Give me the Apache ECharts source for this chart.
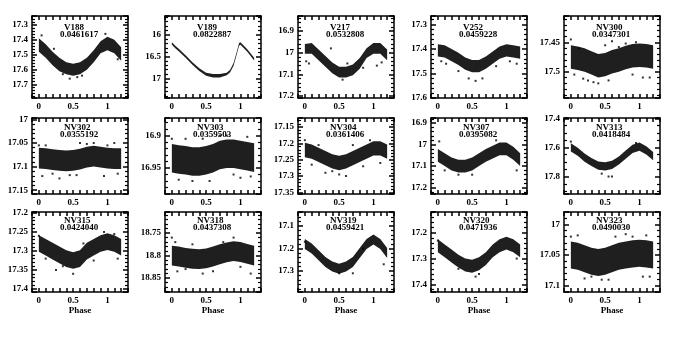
<!DOCTYPE html>
<html>
<head>
<meta charset="utf-8">
<script src="https://cdn.jsdelivr.net/npm/echarts@6/dist/echarts.min.js"></script>
<style>
html, body { margin: 0; padding: 0; background: #fff; }
#main { width: 696px; height: 337px; }
</style>
</head>
<body>
<div id="main"></div>
<script>
// light curves, magnitude vs phase (bright / faint edge of the point cloud)
var phase = [0, 0.1, 0.2, 0.3, 0.4, 0.5, 0.6, 0.7, 0.8, 0.9, 1.0, 1.1, 1.2];
var phaseV189 = [0, 0.05, 0.1, 0.2, 0.3, 0.4, 0.5, 0.6, 0.7, 0.8, 0.85, 0.9, 0.95, 0.98, 1.0, 1.05, 1.1, 1.2];

var starNames = ['V188', 'V189', 'V217', 'V252', 'NV300', 'NV302', 'NV303', 'NV304', 'NV307', 'NV313', 'NV315', 'NV318', 'NV319', 'NV320', 'NV323'];
var periods = ['0.0461617', '0.0822887', '0.0532808', '0.0459228', '0.0347301', '0.0355192', '0.0359503', '0.0361406', '0.0395082', '0.0418484', '0.0424040', '0.0437308', '0.0459421', '0.0471936', '0.0490030'];

var magMin = [17.24, 15.57, 16.83, 17.265, 17.405, 16.997, 16.873, 17.122, 16.876, 17.398, 17.197, 18.703, 17.038, 17.119, 16.98];
var magMax = [17.79, 17.45, 17.21, 17.6, 17.545, 17.158, 16.99, 17.355, 17.23, 17.92, 17.408, 18.881, 17.393, 17.43, 17.11];
var magStep = [0.1, 0.5, 0.1, 0.1, 0.05, 0.05, 0.05, 0.05, 0.1, 0.2, 0.05, 0.05, 0.1, 0.1, 0.05];
var magMinorSplit = [5, 5, 5, 5, 5, 5, 5, 5, 5, 4, 5, 5, 5, 5, 5];
var phaseTicks = [0, 0.5, 1];

var v188Bright = [17.39, 17.43, 17.48, 17.52, 17.55, 17.56, 17.55, 17.52, 17.47, 17.41, 17.38, 17.40, 17.45];
var v188Faint = [17.48, 17.52, 17.57, 17.61, 17.63, 17.64, 17.63, 17.60, 17.55, 17.49, 17.47, 17.49, 17.54];
var v188Out = [[0.04, 17.37], [0.35, 17.63], [0.45, 17.66], [0.56, 17.65], [0.63, 17.64], [0.97, 17.36], [1.15, 17.53], [0.22, 17.46]];

var v189Bright = [16.17, 16.25, 16.32, 16.47, 16.63, 16.77, 16.87, 16.9, 16.9, 16.87, 16.8, 16.65, 16.37, 16.19, 16.17, 16.25, 16.33, 16.53];
var v189Faint = [16.23, 16.31, 16.38, 16.53, 16.69, 16.83, 16.94, 16.98, 16.98, 16.93, 16.86, 16.71, 16.43, 16.25, 16.23, 16.31, 16.39, 16.59];
var v189Out = [];

var v217Bright = [16.96, 16.955, 16.985, 17.015, 17.045, 17.065, 17.065, 17.055, 17.025, 16.98, 16.955, 16.955, 16.985];
var v217Faint = [17.005, 17.005, 17.035, 17.065, 17.095, 17.115, 17.115, 17.105, 17.075, 17.025, 17.005, 17.005, 17.035];
var v217Out = [[0.02, 17.04], [0.06, 17.05], [0.38, 16.98], [0.62, 17.05], [0.85, 17.07], [1.05, 17.06], [1.12, 17.045], [0.55, 17.125]];

var v252Bright = [17.38, 17.385, 17.4, 17.415, 17.435, 17.445, 17.445, 17.43, 17.41, 17.39, 17.38, 17.385, 17.39];
var v252Faint = [17.43, 17.435, 17.45, 17.465, 17.485, 17.495, 17.495, 17.48, 17.46, 17.44, 17.43, 17.435, 17.44];
var v252Out = [[0.05, 17.45], [0.12, 17.46], [0.3, 17.49], [0.45, 17.52], [0.55, 17.53], [0.65, 17.52], [0.85, 17.47], [1.05, 17.45], [1.15, 17.46]];

var nv300Bright = [17.455, 17.457, 17.46, 17.465, 17.47, 17.468, 17.463, 17.46, 17.456, 17.453, 17.452, 17.453, 17.455];
var nv300Faint = [17.495, 17.497, 17.5, 17.505, 17.51, 17.508, 17.503, 17.5, 17.496, 17.493, 17.492, 17.493, 17.495];
var nv300Out = [[0.0, 17.445], [0.12, 17.46], [0.4, 17.52], [0.5, 17.455], [0.95, 17.45], [1.05, 17.51], [0.25, 17.515],
	[0.05, 17.505], [0.18, 17.512], [0.33, 17.518], [0.55, 17.515], [0.7, 17.458], [0.8, 17.452], [0.9, 17.505], [1.15, 17.51], [0.6, 17.448]];

var nv302Bright = [17.06, 17.061, 17.063, 17.065, 17.066, 17.065, 17.062, 17.058, 17.056, 17.058, 17.06, 17.061, 17.061];
var nv302Faint = [17.104, 17.105, 17.107, 17.109, 17.11, 17.109, 17.106, 17.102, 17.1, 17.102, 17.104, 17.105, 17.105];
var nv302Out = [[0.0, 17.055], [0.05, 17.12], [0.3, 17.125], [0.6, 17.05], [0.95, 17.12], [1.15, 17.115],
	[0.1, 17.055], [0.2, 17.115], [0.45, 17.118], [0.7, 17.052], [0.8, 17.05], [1.0, 17.055], [1.1, 17.05], [0.55, 17.118]];

var nv303Bright = [16.913, 16.915, 16.916, 16.918, 16.918, 16.916, 16.913, 16.908, 16.906, 16.906, 16.908, 16.91, 16.912];
var nv303Faint = [16.957, 16.959, 16.96, 16.962, 16.962, 16.96, 16.957, 16.952, 16.95, 16.95, 16.952, 16.954, 16.956];
var nv303Out = [[0.0, 16.905], [0.3, 16.97], [0.7, 16.9], [1.0, 16.965], [0.45, 16.905],
	[0.1, 16.968], [0.2, 16.905], [0.55, 16.97], [0.8, 16.9], [0.9, 16.96], [1.1, 16.902], [1.15, 16.963]];

var nv304Bright = [17.198, 17.203, 17.213, 17.223, 17.233, 17.238, 17.233, 17.223, 17.213, 17.203, 17.193, 17.193, 17.203];
var nv304Faint = [17.242, 17.247, 17.257, 17.267, 17.277, 17.282, 17.277, 17.267, 17.257, 17.247, 17.237, 17.237, 17.247];
var nv304Out = [[0.0, 17.19], [0.3, 17.29], [0.6, 17.3], [0.95, 17.19], [0.4, 17.285],
	[0.1, 17.265], [0.2, 17.205], [0.5, 17.295], [0.7, 17.205], [1.1, 17.26], [0.85, 17.27]];

var nv307Bright = [17.02, 17.04, 17.06, 17.07, 17.07, 17.06, 17.04, 17.02, 17.005, 16.99, 16.99, 17.01, 17.04];
var nv307Faint = [17.08, 17.1, 17.12, 17.13, 17.13, 17.12, 17.1, 17.08, 17.065, 17.05, 17.05, 17.07, 17.1];
var nv307Out = [[0.02, 16.985], [0.1, 17.12], [0.85, 16.98], [1.15, 17.12], [0.5, 17.14], [0.3, 17.14]];

var nv313Bright = [17.572, 17.602, 17.642, 17.672, 17.697, 17.702, 17.692, 17.662, 17.622, 17.582, 17.567, 17.592, 17.632];
var nv313Faint = [17.628, 17.658, 17.698, 17.728, 17.753, 17.758, 17.748, 17.718, 17.678, 17.638, 17.623, 17.648, 17.688];
var nv313Out = [[0.0, 17.56], [0.55, 17.8], [0.6, 17.8], [0.45, 17.78], [0.95, 17.57]];

var nv315Bright = [17.258, 17.268, 17.278, 17.288, 17.298, 17.303, 17.298, 17.278, 17.268, 17.258, 17.253, 17.258, 17.268];
var nv315Faint = [17.302, 17.312, 17.322, 17.332, 17.342, 17.347, 17.342, 17.322, 17.312, 17.302, 17.297, 17.302, 17.312];
var nv315Out = [[0.0, 17.26], [0.5, 17.36], [0.25, 17.35], [0.95, 17.25], [1.1, 17.255],
	[0.1, 17.32], [0.35, 17.34], [0.65, 17.28], [0.8, 17.325], [1.15, 17.32]];

var nv318Bright = [18.778, 18.78, 18.783, 18.785, 18.786, 18.784, 18.78, 18.775, 18.771, 18.768, 18.77, 18.774, 18.778];
var nv318Faint = [18.822, 18.824, 18.827, 18.829, 18.83, 18.828, 18.824, 18.819, 18.815, 18.812, 18.814, 18.818, 18.822];
var nv318Out = [[0.0, 18.76], [0.45, 18.84], [0.9, 18.76], [1.15, 18.84], [0.08, 18.835],
	[0.2, 18.83], [0.3, 18.775], [0.6, 18.835], [0.75, 18.77], [1.0, 18.825], [0.05, 18.77]];

var nv319Bright = [17.158, 17.178, 17.208, 17.238, 17.258, 17.268, 17.258, 17.238, 17.198, 17.158, 17.138, 17.158, 17.198];
var nv319Faint = [17.202, 17.222, 17.252, 17.282, 17.302, 17.312, 17.302, 17.282, 17.242, 17.202, 17.182, 17.202, 17.242];
var nv319Out = [[0.0, 17.17], [0.5, 17.31], [0.7, 17.31], [1.15, 17.27], [0.85, 17.2]];

var nv320Bright = [17.225, 17.245, 17.265, 17.285, 17.3, 17.305, 17.295, 17.275, 17.245, 17.225, 17.215, 17.225, 17.245];
var nv320Faint = [17.275, 17.295, 17.315, 17.335, 17.35, 17.355, 17.345, 17.325, 17.295, 17.275, 17.265, 17.275, 17.295];
var nv320Out = [[0.0, 17.23], [0.55, 17.37], [0.6, 17.36], [1.15, 17.3], [0.3, 17.34]];

var nv323Bright = [17.028, 17.03, 17.034, 17.038, 17.04, 17.038, 17.034, 17.03, 17.028, 17.026, 17.025, 17.026, 17.028];
var nv323Faint = [17.072, 17.074, 17.078, 17.082, 17.084, 17.082, 17.078, 17.074, 17.072, 17.07, 17.069, 17.07, 17.072];
var nv323Out = [[0.0, 17.02], [0.45, 17.09], [0.9, 17.02], [0.3, 17.085], [1.15, 17.085],
	[0.1, 17.018], [0.2, 17.088], [0.55, 17.09], [0.65, 17.02], [0.8, 17.016], [1.05, 17.085], [1.1, 17.018]];

var bands = [
	[phase, v188Bright, v188Faint, v188Out],
	[phaseV189, v189Bright, v189Faint, v189Out],
	[phase, v217Bright, v217Faint, v217Out],
	[phase, v252Bright, v252Faint, v252Out],
	[phase, nv300Bright, nv300Faint, nv300Out],
	[phase, nv302Bright, nv302Faint, nv302Out],
	[phase, nv303Bright, nv303Faint, nv303Out],
	[phase, nv304Bright, nv304Faint, nv304Out],
	[phase, nv307Bright, nv307Faint, nv307Out],
	[phase, nv313Bright, nv313Faint, nv313Out],
	[phase, nv315Bright, nv315Faint, nv315Out],
	[phase, nv318Bright, nv318Faint, nv318Out],
	[phase, nv319Bright, nv319Faint, nv319Out],
	[phase, nv320Bright, nv320Faint, nv320Out],
	[phase, nv323Bright, nv323Faint, nv323Out]
];

var chart = echarts.init(document.getElementById('main'));

var W = 96;
var colLeft = [32, 165, 298, 431, 564];
var rowTop = [16, 118, 212];
var rowH = [82, 76, 80];
var nameOff = [12, 10, 9];
var perOff = [19, 17, 16];
var font = 'Liberation Serif';
var lblStyle = { color: '#000', fontFamily: font, fontWeight: 'bold', fontSize: 9 };

function fmt(v) {
	return String(parseFloat(v.toFixed(3)));
}
function onStep(v, s) {
	var r = v / s;
	return Math.abs(r - Math.round(r)) < 1e-6;
}

// ticks every 0.1 on phase axes; min -0.1 is a multiple of the interval
function xAxisFor(i, pos, showLabel, name) {
	return {
		gridIndex: i, type: 'value', position: pos,
		min: -0.1, max: 1.3, interval: 0.1,
		axisLine: { show: true, onZero: false, lineStyle: { color: '#000', width: 1.5 } },
		axisTick: { show: true, inside: true, length: 4, lineStyle: { color: '#000', width: 1.5 } },
		minorTick: { show: false },
		axisLabel: {
			show: showLabel, margin: 4, color: '#000', fontFamily: font, fontWeight: 'bold', fontSize: 9,
			showMinLabel: true, showMaxLabel: true,
			formatter: function (v) { return phaseTicks.indexOf(parseFloat(v.toFixed(3))) >= 0 ? fmt(v) : ''; }
		},
		splitLine: { show: false },
		name: name || '', nameLocation: 'middle', nameGap: 14,
		nameTextStyle: lblStyle,
		z: 5
	};
}

function yAxisFor(i, pos, showLabel) {
	var big = magStep[i];
	return {
		gridIndex: i, type: 'value', position: pos, inverse: true,
		min: magMin[i], max: magMax[i], minInterval: big, maxInterval: big,
		splitNumber: Math.max(1, Math.round((magMax[i] - magMin[i]) / big)),
		axisLine: { show: true, onZero: false, lineStyle: { color: '#000', width: 1.5 } },
		axisTick: { show: true, inside: true, length: 5, lineStyle: { color: '#000', width: 1.5 } },
		minorTick: { show: true, splitNumber: magMinorSplit[i], length: 3, lineStyle: { color: '#000', width: 1.2 } },
		axisLabel: {
			show: showLabel, margin: 4, color: '#000', fontFamily: font, fontWeight: 'bold', fontSize: 9,
			formatter: function (v) { return onStep(v, big) ? fmt(v) : ''; }
		},
		splitLine: { show: false },
		z: 5
	};
}

var grids = [], xAxes = [], yAxes = [], series = [], texts = [];

for (var i = 0; i < 15; i++) {
	var r = Math.floor(i / 5), c = i % 5;
	grids.push({ left: colLeft[c], top: rowTop[r], width: W, height: rowH[r] });

	xAxes.push(xAxisFor(i, 'bottom', true, r === 2 ? 'Phase' : ''));
	xAxes.push(xAxisFor(i, 'top', false));
	yAxes.push(yAxisFor(i, 'left', true));
	yAxes.push(yAxisFor(i, 'right', false));

	(function (b) {
		series.push({
			type: 'custom',
			xAxisIndex: 2 * i, yAxisIndex: 2 * i,
			data: [[b[0][0], b[1][0]]],
			silent: true,
			renderItem: function (params, api) {
				var pts = [];
				for (var k = 0; k < b[0].length; k++) pts.push(api.coord([b[0][k], b[1][k]]));
				for (var k2 = b[0].length - 1; k2 >= 0; k2--) pts.push(api.coord([b[0][k2], b[2][k2]]));
				return {
					type: 'polygon',
					shape: { points: pts },
					style: { fill: '#000', opacity: 0.88 }
				};
			}
		});
	})(bands[i]);

	series.push({
		type: 'scatter',
		xAxisIndex: 2 * i, yAxisIndex: 2 * i,
		symbol: 'rect', symbolSize: 2,
		itemStyle: { color: '#000' },
		silent: true,
		data: bands[i][3]
	});

	texts.push({
		type: 'text', left: colLeft[c] + 32, top: rowTop[r] + nameOff[r] - 5,
		style: { text: starNames[i], fill: '#000', font: 'bold 9px "' + font + '"' }
	});
	texts.push({
		type: 'text', left: colLeft[c] + 28, top: rowTop[r] + perOff[r] - 5,
		style: { text: periods[i], fill: '#000', font: 'bold 9px "' + font + '"' }
	});
}

chart.setOption({
	animation: false,
	backgroundColor: '#fff',
	grid: grids,
	xAxis: xAxes,
	yAxis: yAxes,
	series: series,
	graphic: texts
});
</script>
</body>
</html>
